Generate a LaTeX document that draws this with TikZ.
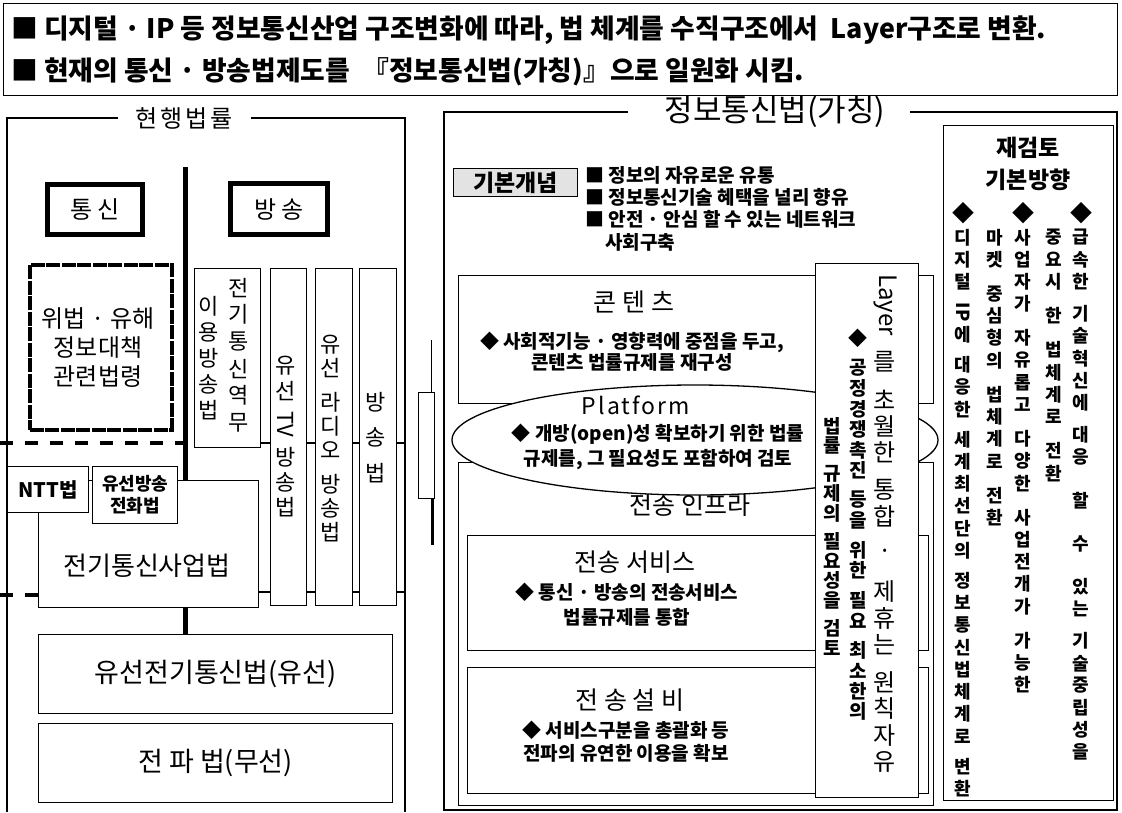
\documentclass[tikz,border=0pt]{standalone}
\usepackage{fontspec}
\usepackage{graphicx}
\setmainfont{Noto Sans CJK KR}
\usetikzlibrary{shapes.geometric}
\newlength\vpitch \newlength\vgap \newlength\vwd
\makeatletter
\newcommand\vstk[1]{\@tfor\vx:=#1\do{\vbox to\vpitch{\vss\hbox to\vwd{\hss\vx\hss}\vss}}}
\makeatother
\newcommand\vgp[1][\vgap]{\vskip #1\relax}
\newcommand\vrot[1]{\vbox{\kern2pt\hbox to\vwd{\hss\rotatebox{-90}{#1}\hss}\kern2pt}}
\newcommand\vcol[3]{\vbox{\offinterlineskip\setlength\vpitch{#1}\setlength\vgap{#2}\setlength\vwd{1.4em}#3}}
\newcommand\bxn[6][]{\node[lbox,#1,minimum width={#5-#3},minimum height={#6-#4}] (#2) at (#3,#4) {};}
\begin{document}
\begin{tikzpicture}[x=1pt,y=-1pt,
  lbox/.style={draw,line width=1.3pt,fill=white,inner sep=0pt,anchor=north west},
  frame/.style={draw,line width=1.3pt},
  txt/.style={inner sep=0pt,align=center},
  vtxt/.style={inner sep=0pt,anchor=north},
  thickln/.style={line width=5pt},
  dashln/.style={line width=4pt,dash pattern=on 13pt off 12pt},
  bul/.style={font=\bfseries\fontsize{19}{24}\selectfont},
  ttl/.style={font=\fontsize{25}{30}\selectfont},
  rcol/.style={vtxt,font=\bfseries\fontsize{18}{18}\selectfont}]
\useasboundingbox (0,0) rectangle (1122,812);
\fill[white] (0,0) rectangle (1122,812);

% ---------- banner
\bxn{banner}{3}{3}{1117}{95}
\node[txt,anchor=west,font=\bfseries\fontsize{26.8}{30}\selectfont] (b1) at (11,30) {■ 디지털 · IP 등 정보통신산업 구조변화에 따라, 법 체계를 수직구조에서 \ Layer구조로 변환.};
\node[txt,anchor=west,font=\bfseries\fontsize{26.8}{30}\selectfont] (b2) at (11,72) {■ 현재의 통신 · 방송법제도를 \ 『정보통신법(가칭)』으로 일원화 시킴.};

% ---------- left panel
\node[txt,font=\fontsize{24}{28}\selectfont\addfontfeature{LetterSpace=12}] (lawt) at (184,118) {현행법률};
\draw[frame] (118,118) -- (7,118) -- (7,812);
\draw[frame] (251,118) -- (405,118) -- (405,812);

\coordinate (vtop) at (185,167);
\coordinate (d1) at (0,443);
\coordinate (d2) at (0,595);
\draw[line width=2pt] (260,443) -- (405,443);
\draw[line width=2pt] (258,592) -- (405,592);

\bxn[line width=5pt]{tong}{45}{182}{140}{232}
\node[txt,font=\fontsize{24}{28}\selectfont] (tongt) at (tong) {통 신};
\bxn[line width=5pt]{bang}{228}{181}{325}{232}
\node[txt,font=\fontsize{24}{28}\selectfont] (bangt) at (bang) {방 송};

\bxn[line width=3.5pt,dash pattern=on 14pt off 1.5pt]{illegal}{28}{263}{170}{428}
\node[txt,font=\fontsize{24}{29}\selectfont] (illegalt) at (98,348) {위법 · 유해\\정보대책\\관련법령};

\bxn{c1}{194}{268}{260}{447}
\bxn{c2}{270}{268}{306}{605}
\bxn{c3}{315}{268}{352}{605}
\bxn{c4}{359}{268}{396}{605}
\node[vtxt,font=\fontsize{22}{22}\selectfont] (c1r) at (239,274) {\vcol{27pt}{0pt}{\vstk{전기통신역무}}};
\node[vtxt,font=\fontsize{22}{22}\selectfont] (c1l) at (209,293) {\vcol{26pt}{0pt}{\vstk{이용방송법}}};
\node[vtxt,font=\fontsize{22}{22}\selectfont] (c2t) at (286,353) {\vcol{25pt}{6pt}{\vstk{유선}\vgp\vrot{TV}\vgp\vstk{방송법}}};
\node[vtxt,font=\fontsize{22}{22}\selectfont] (c3t) at (331,332) {\vcol{24pt}{10pt}{\vstk{유선}\vgp\vstk{라디오}\vgp\vstk{방송법}}};
\node[vtxt,font=\fontsize{22}{22}\selectfont] (c4t) at (376,385) {\vcol{35pt}{0pt}{\vstk{방송법}}};

\bxn{biz}{38}{480}{258}{607}
\node[txt,font=\fontsize{26}{30}\selectfont] (bizt) at (147,566) {전기통신사업법};
\bxn{ntt}{7}{466}{88}{512}
\node[txt,font=\bfseries\fontsize{20}{24}\selectfont] (nttt) at (ntt) {NTT법};
\bxn{yph}{92}{466}{177}{523}
\node[txt,font=\bfseries\fontsize{18}{22}\selectfont] (ypht) at (yph) {유선방송\\전화법};

\bxn{wired}{38}{634}{392}{713}
\node[txt,font=\fontsize{27}{30}\selectfont] (wiredt) at (wired) {유선전기통신법(유선)};
\bxn{radio}{38}{723}{392}{802}
\node[txt,font=\fontsize{27}{30}\selectfont] (radiot) at (radio) {전 파 법(무선)};

\draw[thickln] (vtop) -- (vtop |- biz.north);
\draw[thickln] (biz.south -| vtop) -- (wired.north -| vtop);
\draw[dashln] (d1) -- (d1 -| vtop);
\draw[dashln] (d2) -- (d2 -| biz.west);

% ---------- middle bracket
\coordinate (m1) at (431,340);
\coordinate (m2) at (431,392);
\draw[line width=1pt] (m1) -- (m2);
\node[lbox,line width=1.2pt,minimum width=16,minimum height=106] (mrect) at (418,392) {};
\coordinate (m3) at (432,545);
\draw[line width=3pt] (mrect.south -| m3) -- (m3);

% ---------- right panel
\node[txt,font=\fontsize{31}{36}\selectfont] (rtitle) at (775,112) {정보통신법(가칭)};
\draw[frame] (628,112) -- (444,112) -- (444,810) -- (1117,810) -- (1117,112) -- (910,112);

\bxn[fill=gray!22]{gibon}{453}{168}{577}{196}
\node[txt,font=\bfseries\fontsize{23}{26}\selectfont] (gibont) at (gibon) {기본개념};
\node[txt,anchor=west,bul] (k1) at (585,175) {■ 정보의 자유로운 유통};
\node[txt,anchor=west,bul] (k2) at (585,197) {■ 정보통신기술 혜택을 널리 향유};
\node[txt,anchor=west,bul] (k3) at (585,219) {■ 안전 · 안심 할 수 있는 네트워크};
\node[txt,anchor=west,bul] (k4) at (605,242) {사회구축};

\bxn{cont}{458}{275}{933}{403}
\node[txt,ttl] (contt) at (634,302) {콘 텐 츠};
\node[txt,font=\bfseries\fontsize{19}{21}\selectfont] (contb) at (632,352) {◆ 사회적기능 · 영향력에 중점을 두고,\\콘텐츠 법률규제를 재구성};

\bxn{infra}{458}{462}{933}{805}
\node[txt,ttl] (infrat) at (690,505) {전송 인프라};

\node[draw,ellipse,line width=1.3pt,fill=white,minimum width=486,minimum height=110,inner sep=0pt] (plat) at (695,440) {};
\node[txt,font=\fontsize{23}{28}\selectfont\addfontfeature{LetterSpace=9}] (platt) at (636,405) {Platform};
\node[txt,font=\bfseries\fontsize{19}{25}\selectfont] (platb) at (658,447) {◆ 개방(open)성 확보하기 위한 법률\\규제를, 그 필요성도 포함하여 검토};

\bxn{serv}{467}{535}{928}{650}
\node[txt,ttl] (servt) at (635,562) {전송 서비스};
\node[txt,font=\bfseries\fontsize{19}{25}\selectfont] (servb) at (627,605) {◆ 통신 · 방송의 전송서비스\\법률규제를 통합};

\bxn{facil}{467}{667}{928}{793}
\node[txt,ttl] (facilt) at (630,700) {전 송 설 비};
\node[txt,font=\bfseries\fontsize{19}{23}\selectfont] (facilb) at (626,742) {◆ 서비스구분을 총괄화 등\\전파의 유연한 이용을 확보};

% ---------- Layer box
\bxn{layer}{815}{263}{918}{797}
\node[vtxt,font=\fontsize{24}{24}\selectfont] (lay1) at (885,272) {\vcol{26.5pt}{11pt}{\vrot{Layer}\vgp\vstk{를}\vgp\vstk{초월한}\vgp\vstk{통합}\vgp\vstk{·}\vgp\vstk{제휴는}\vgp\vstk{원칙자유}}};
\node[vtxt,font=\bfseries\fontsize{19}{19}\selectfont] (lay2) at (858,328) {\vcol{20.5pt}{9pt}{\vstk{◆}\vgp\vstk{공정경쟁촉진}\vgp\vstk{등을}\vgp\vstk{위한}\vgp\vstk{필요}\vgp\vstk{최소한의}}};
\node[vtxt,font=\bfseries\fontsize{19}{19}\selectfont] (lay3) at (832,416) {\vcol{19.5pt}{9pt}{\vstk{법률}\vgp\vstk{규제의}\vgp\vstk{필요성을}\vgp\vstk{검토}}};

% ---------- review column
\bxn{review}{943}{125}{1113}{800}
\node[txt,font=\bfseries\fontsize{23}{32}\selectfont] (reviewt) at (1028,164) {재검토\\기본방향};
\node[txt,font=\fontsize{22}{22}\selectfont] (dE) at (963,213) {◆};
\node[txt,font=\fontsize{22}{22}\selectfont] (dC) at (1023,213) {◆};
\node[txt,font=\fontsize{22}{22}\selectfont] (dA) at (1081,213) {◆};
\node[rcol] (colA) at (1081,226) {\vcol{22.2pt}{10pt}{\vstk{급속한}\vgp\vstk{기술혁신에}\vgp\vstk{대응}\vgp[21pt]\vstk{할}\vgp[21pt]\vstk{수}\vgp[21pt]\vstk{있는}\vgp\vstk{기술중립성을}}};
\node[rcol] (colB) at (1054,226) {\vcol{22.2pt}{12pt}{\vstk{중요시}\vgp\vstk{한}\vgp\vstk{법체계로}\vgp\vstk{전환}}};
\node[rcol] (colC) at (1023,226) {\vcol{22.2pt}{12pt}{\vstk{사업자가}\vgp\vstk{자유롭고}\vgp\vstk{다양한}\vgp\vstk{사업전개가}\vgp\vstk{가능한}}};
\node[rcol] (colD) at (995,226) {\vcol{22.2pt}{12pt}{\vstk{마켓}\vgp\vstk{중심형의}\vgp\vstk{법체계로}\vgp\vstk{전환}}};
\node[rcol] (colE) at (963,226) {\vcol{22.2pt}{8pt}{\vstk{디지털}\vgp\vrot{IP}\vstk{에}\vgp\vstk{대응한}\vgp\vstk{세계최선단의}\vgp\vstk{정보통신법체계로}\vgp\vstk{변환}}};
\end{tikzpicture}
\end{document}
